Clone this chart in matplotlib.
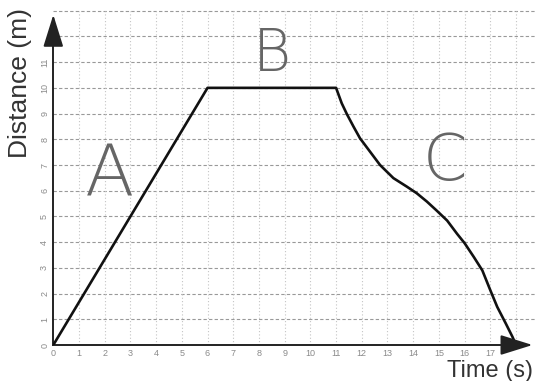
import numpy as np
import matplotlib.pyplot as plt

# distance-time data
time_s = [0, 6, 11, 11.22, 11.42, 11.68, 11.93, 12.32, 12.71, 13.23, 13.75, 14.14,
          14.53, 14.9, 15.32, 15.71, 16.0, 16.36, 16.69, 17.0, 17.27, 17.6, 17.86, 18.0]
dist_m = [0, 10, 10, 9.40, 8.98, 8.49, 8.04, 7.52, 7.0, 6.49, 6.16, 5.90,
          5.58, 5.24, 4.84, 4.32, 3.96, 3.42, 2.90, 2.13, 1.48, 0.84, 0.32, 0]

xticks = list(range(0, 18))
yticks = list(range(0, 12))
grid_x = list(range(0, 19))
grid_y = list(range(0, 14))

plt.rcParams['font.family'] = ['Liberation Sans', 'DejaVu Sans']

fig = plt.figure(figsize=(5.35, 3.81), dpi=100)
ax = fig.add_axes([53.3/535, 36/381, 482/535, 342/381])
ax.set_xlim(0, 18.75)
ax.set_ylim(0, 13.3)

# grid
for gy in grid_y[1:]:
    ax.axhline(gy, color='#999999', lw=0.8, ls=(0, (3, 2)), zorder=1)
for gx in grid_x[1:]:
    ax.axvline(gx, ymax=13/13.3, color='#c4c4c4', lw=0.8, ls=(0, (1, 2)), zorder=1)

ax.plot(time_s, dist_m, color='#111111', lw=1.9, zorder=3, solid_joinstyle='round')

for s in ['top', 'right']:
    ax.spines[s].set_visible(False)
ax.spines['left'].set_bounds(0, 12.3)
ax.spines['bottom'].set_bounds(0, 18.0)
ax.spines['left'].set_color('#222222')
ax.spines['bottom'].set_color('#222222')
ax.spines['left'].set_linewidth(1.4)
ax.spines['bottom'].set_linewidth(1.4)

# arrow heads on the axes
ax.annotate('', xy=(0, 12.95), xytext=(0, 11.6), annotation_clip=False,
            arrowprops=dict(arrowstyle='-|>,head_length=0.8,head_width=0.25',
                            color='#222222', lw=1.4, mutation_scale=25))
ax.annotate('', xy=(18.75, 0), xytext=(17.4, 0), annotation_clip=False,
            arrowprops=dict(arrowstyle='-|>,head_length=0.8,head_width=0.25',
                            color='#222222', lw=1.4, mutation_scale=25))

ax.set_xticks(xticks)
ax.set_yticks(yticks)
ax.set_xticklabels([str(t) for t in xticks], fontsize=6.5, color='#8a8a8a')
ax.set_yticklabels([str(t) for t in yticks], fontsize=6.5, color='#8a8a8a',
                   rotation=90, va='center')
ax.tick_params(length=0, pad=3)

fig.text(20/535, 1 - 8/381, 'Distance (m)', rotation=90, ha='center', va='top',
         fontsize=19, color='#333333')
fig.text(533/535, 4/381, 'Time (s)', ha='right', va='baseline',
         fontsize=17, color='#333333')

# handwritten section labels
hand = dict(color='#666666', ha='center', va='center',
            family=['DejaVu Sans'], weight='light')
ax.text(2.17, 6.58, 'A', fontsize=52, **hand)
ax.text(8.5, 11.3, 'B', fontsize=42, **hand)
ax.text(15.23, 7.12, 'C', fontsize=46, **hand)

fig.savefig('out.png', dpi=100)
